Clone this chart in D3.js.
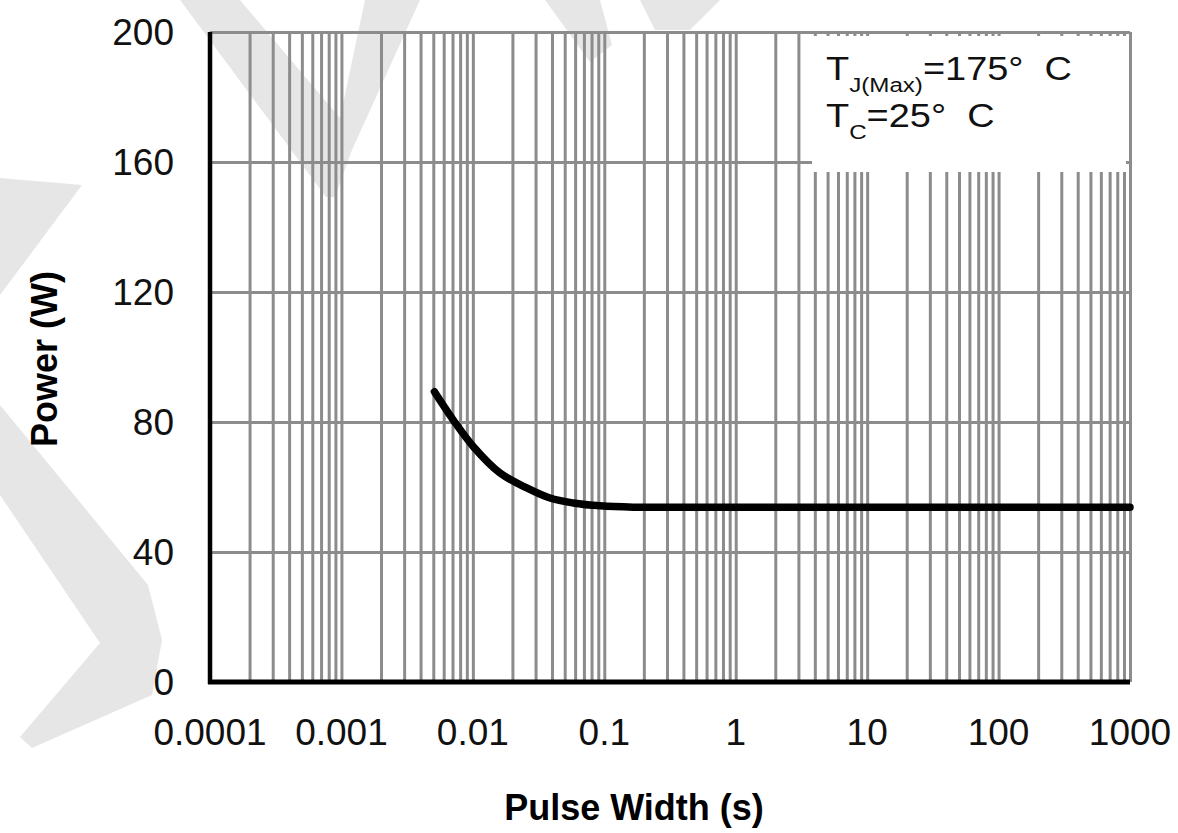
<!DOCTYPE html>
<html>
<head>
<meta charset="utf-8">
<script src="https://cdn.jsdelivr.net/npm/d3@7"></script>
<style>
  body { margin: 0; background: #fff; }
  svg { display: block; font-family: "Liberation Sans", Arial, sans-serif; }
</style>
</head>
<body>
<div class="chart"></div>
<script>
// values
const pulseWidth = [0.0051, 0.0071, 0.0101, 0.0161, 0.0257, 0.0386, 0.058, 0.093, 0.166, 0.5, 10, 1000];
const power      = [89.3,   80.6,   72.4,   64.3,   59.7,   56.6,   55.1,  54.2,  53.8,  53.8, 53.8, 53.8];
const yTicks = [0, 40, 80, 120, 160, 200];
const xTickLabels = ["0.0001", "0.001", "0.01", "0.1", "1", "10", "100", "1000"];
const legendLines = [["T", "J(Max)", "=175°  C"], ["T", "C", "=25°  C"]];

const width = 1178, height = 833;
const m = {left: 210, right: 48, top: 32, bottom: 151};

const x = d3.scaleLog().domain([1e-4, 1e3]).range([m.left, width - m.right]);
const y = d3.scaleLinear().domain([0, 200]).range([height - m.bottom, m.top]);

const svg = d3.select('.chart').append('svg')
    .attr("width", width)
    .attr("height", height);

// faint watermark behind everything
const wm = [
    [[180,0],[240,0],[340,118],[365,0],[420,0],[352,150],[335,197],[326,197]],
    [[0,178],[82,185],[0,295]],
    [[0,405],[148,585],[162,640],[152,695],[32,748],[20,737],[100,643],[0,495]],
    [[545,0],[600,0],[612,45],[590,62]],
    [[640,0],[720,0],[690,30],[655,30]]
];
svg.append("g").selectAll("path")
    .data(wm)
    .join("path")
    .attr("d", d => d3.line()(d) + "Z")
    .attr("fill", "#e6e6e6");

// grid
const grid = svg.append("g");
grid.append("g")
    .attr("transform", `translate(0,${m.top})`)
    .call(d3.axisBottom(x).tickSize(height - m.bottom - m.top).tickFormat(""))
    .call(g => g.select(".domain").remove())
    .call(g => g.selectAll("line").attr("stroke", "#8c8c8c").attr("stroke-width", 3));
grid.append("g")
    .attr("transform", `translate(${m.left},0)`)
    .call(d3.axisRight(y).tickValues(yTicks).tickSize(width - m.right - m.left).tickFormat(""))
    .call(g => g.select(".domain").remove())
    .call(g => g.selectAll("line").attr("stroke", "#8c8c8c").attr("stroke-width", 3));

// legend box (text a bit stretched sideways like the original)
const lg = svg.append("g");
lg.append("rect")
    .attr("x", 812).attr("y", 36)
    .attr("width", 314).attr("height", 136)
    .attr("fill", "#fff");
const lt = lg.append("g")
    .attr("transform", "translate(826,0) scale(1.15,1)")
    .selectAll("text")
    .data(legendLines)
    .join("text")
    .attr("x", 0)
    .attr("y", (d, i) => 80 + i * 47)
    .attr("font-size", 33)
    .attr("fill", "#111")
    .style("white-space", "pre");
lt.append("tspan").text(d => d[0]);
lt.append("tspan").attr("font-size", 21).attr("dy", 12).text(d => d[1]);
lt.append("tspan").attr("dy", -12).text(d => d[2]);

// frame lines (left + bottom black)
svg.append("line")
    .attr("x1", m.left).attr("x2", m.left)
    .attr("y1", m.top).attr("y2", height - m.bottom + 2)
    .attr("stroke", "#000").attr("stroke-width", 4.5);
svg.append("line")
    .attr("x1", m.left - 2).attr("x2", width - m.right)
    .attr("y1", height - m.bottom).attr("y2", height - m.bottom)
    .attr("stroke", "#000").attr("stroke-width", 5);

// curve
svg.append("path")
    .datum(d3.zip(pulseWidth, power))
    .attr("fill", "none")
    .attr("stroke", "#000")
    .attr("stroke-width", 7.5)
    .attr("stroke-linecap", "round")
    .attr("d", d3.line().x(d => x(d[0])).y(d => y(d[1])).curve(d3.curveCatmullRom));

// tick labels
svg.append("g").selectAll("text")
    .data(yTicks)
    .join("text")
    .attr("x", 174)
    .attr("y", d => y(d))
    .attr("dy", "0.36em")
    .attr("text-anchor", "end")
    .attr("font-size", 37)
    .attr("fill", "#111")
    .text(d => d);

svg.append("g").selectAll("text")
    .data(xTickLabels)
    .join("text")
    .attr("x", d => x(+d))
    .attr("y", 745)
    .attr("text-anchor", "middle")
    .attr("font-size", 37)
    .attr("fill", "#111")
    .text(d => d);

// axis titles
svg.append("text")
    .attr("x", 634).attr("y", 820)
    .attr("text-anchor", "middle")
    .attr("font-size", 36)
    .attr("font-weight", "bold")
    .text("Pulse Width (s)");
svg.append("text")
    .attr("transform", "translate(57,359) rotate(-90)")
    .attr("text-anchor", "middle")
    .attr("font-size", 36)
    .attr("font-weight", "bold")
    .text("Power (W)");
</script>
</body>
</html>
